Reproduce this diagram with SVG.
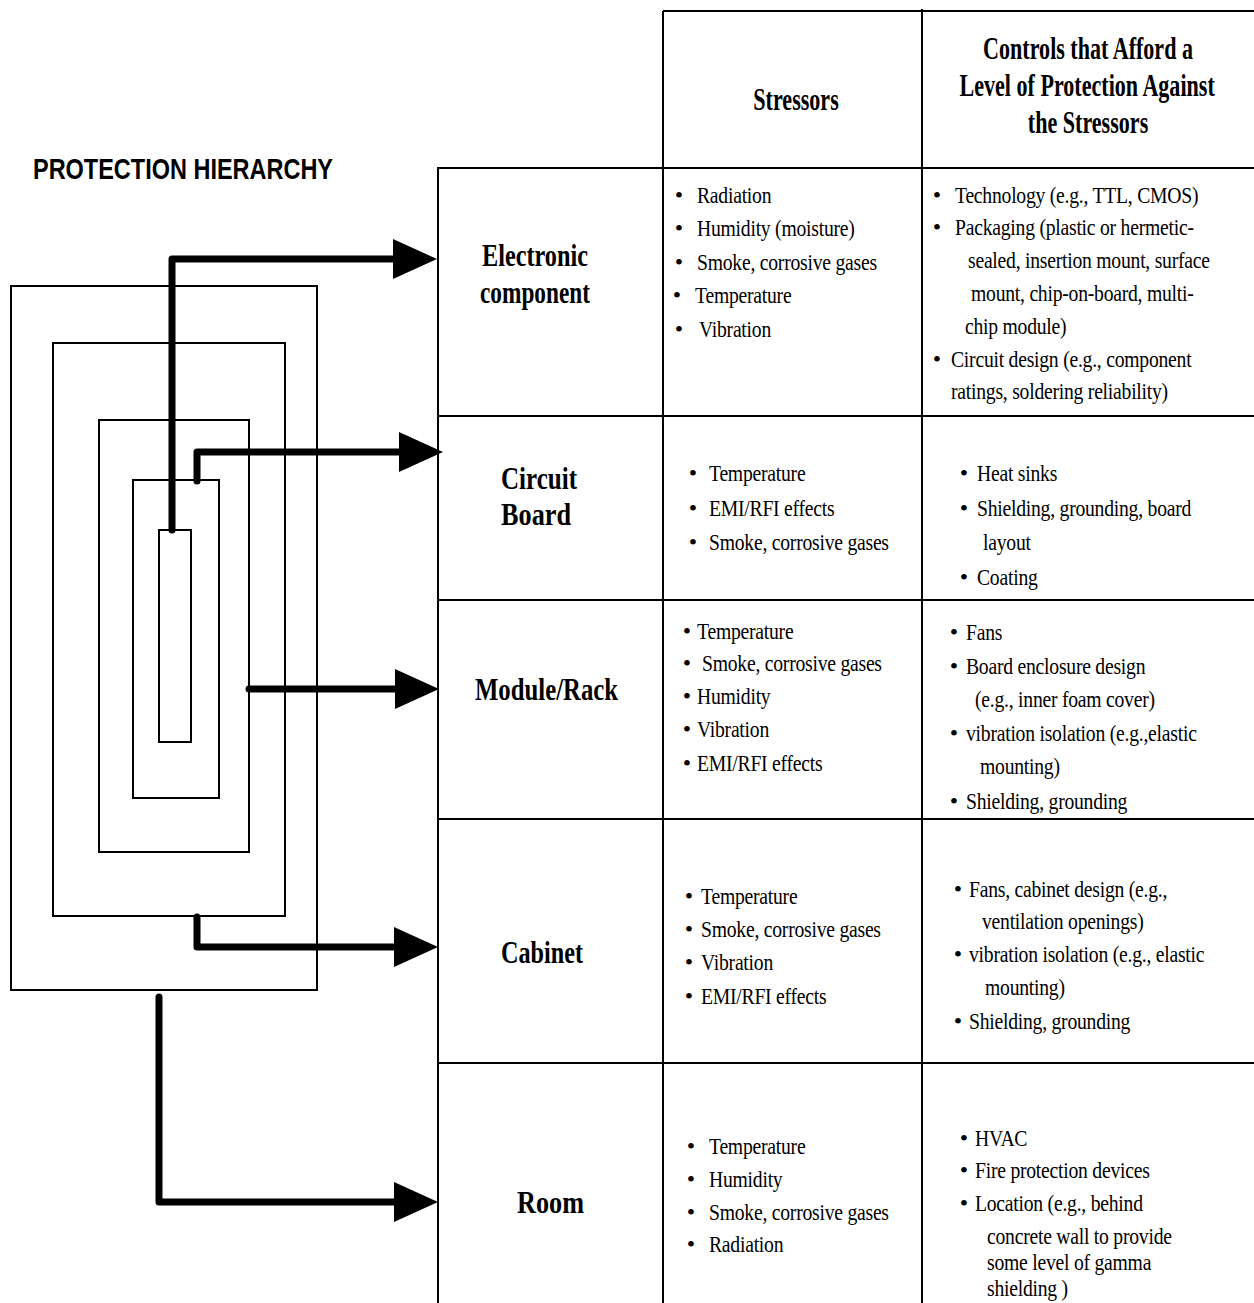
<svg xmlns="http://www.w3.org/2000/svg" width="1254" height="1303" viewBox="0 0 1254 1303">
<style>
.bg{fill:#fff}
.box{fill:none;stroke:#000;stroke-width:2}
.grid{stroke:#000;stroke-width:2;fill:none}
.conn{fill:none;stroke:#000;stroke-width:7;stroke-linecap:round;stroke-linejoin:round}
.title{font-family:"Liberation Sans",Arial,sans-serif;font-weight:bold;font-size:30px;fill:#000}
.hd{font-family:"Liberation Serif","Times New Roman",serif;font-weight:bold;font-size:32px;fill:#000;text-anchor:middle;transform-box:fill-box;transform-origin:center;transform:scaleX(0.69)}
.lbl{font-family:"Liberation Serif","Times New Roman",serif;font-weight:bold;font-size:32px;fill:#000}
.t{font-family:"Liberation Serif","Times New Roman",serif;font-size:24px;fill:#000;letter-spacing:-0.3px;transform-box:fill-box;transform-origin:0 0;transform:scaleX(0.82)}
.d{font-family:"Liberation Serif","Times New Roman",serif;font-size:24px;fill:#000;text-anchor:middle}
</style>
<defs>
<marker id="ah" markerUnits="userSpaceOnUse" markerWidth="44" markerHeight="40" refX="0" refY="20" orient="auto">
<path d="M0,0 L44,20 L0,40 Z" fill="#000"/>
</marker>
</defs>
<rect class="bg" x="0" y="0" width="1254" height="1303"/>
<text class="title" x="33" y="179" textLength="300" lengthAdjust="spacingAndGlyphs">PROTECTION HIERARCHY</text>

<g id="hierarchy">
<rect id="level-room" class="box" x="11" y="286" width="306" height="704"/>
<rect id="level-cabinet" class="box" x="53" y="343" width="232" height="573"/>
<rect id="level-module" class="box" x="99" y="420" width="150" height="432"/>
<rect id="level-board" class="box" x="133" y="480" width="86" height="318"/>
<rect id="level-component" class="box" x="159" y="530" width="32" height="212"/>
</g>

<g id="table-grid">
<line class="grid" x1="663" y1="11" x2="1254" y2="11"/>
<line class="grid" x1="663" y1="11" x2="663" y2="1303"/>
<line class="grid" x1="922" y1="9" x2="922" y2="1303"/>
<line class="grid" x1="438" y1="168" x2="438" y2="1303"/>
<line class="grid" x1="437" y1="168" x2="1254" y2="168"/>
<line class="grid" x1="438" y1="416" x2="1254" y2="416"/>
<line class="grid" x1="438" y1="600" x2="1254" y2="600"/>
<line class="grid" x1="438" y1="819" x2="1254" y2="819"/>
<line class="grid" x1="438" y1="1063" x2="1254" y2="1063"/>
</g>

<g id="header">
<text class="hd" x="796" y="110">Stressors</text>
<text class="hd" x="1088" y="59">Controls that Afford a</text>
<text class="hd" x="1087" y="96">Level of Protection Against</text>
<text class="hd" x="1088" y="133">the Stressors</text>
</g>

<g id="row-component">
<text class="lbl" x="482" y="266" textLength="106" lengthAdjust="spacingAndGlyphs">Electronic</text>
<text class="lbl" x="480" y="303" textLength="110" lengthAdjust="spacingAndGlyphs">component</text>
<text class="d" x="679" y="203">•</text><text class="t" x="697" y="203">Radiation</text>
<text class="d" x="679" y="236">•</text><text class="t" x="697" y="236">Humidity (moisture)</text>
<text class="d" x="679" y="270">•</text><text class="t" x="697" y="270">Smoke, corrosive gases</text>
<text class="d" x="677" y="303">•</text><text class="t" x="695" y="303">Temperature</text>
<text class="d" x="679" y="337">•</text><text class="t" x="699" y="337">Vibration</text>
<text class="d" x="937" y="203">•</text><text class="t" x="955" y="203">Technology (e.g., TTL, CMOS)</text>
<text class="d" x="937" y="235">•</text><text class="t" x="955" y="235">Packaging (plastic or hermetic-</text>
<text class="t" x="968" y="268">sealed, insertion mount, surface</text>
<text class="t" x="971" y="301">mount, chip-on-board, multi-</text>
<text class="t" x="965" y="334">chip module)</text>
<text class="d" x="937" y="367">•</text><text class="t" x="951" y="367">Circuit design (e.g., component</text>
<text class="t" x="951" y="399">ratings, soldering reliability)</text>
</g>

<g id="row-board">
<text class="lbl" x="501" y="489" textLength="76" lengthAdjust="spacingAndGlyphs">Circuit</text>
<text class="lbl" x="501" y="525" textLength="70" lengthAdjust="spacingAndGlyphs">Board</text>
<text class="d" x="693" y="481">•</text><text class="t" x="709" y="481">Temperature</text>
<text class="d" x="693" y="516">•</text><text class="t" x="709" y="516">EMI/RFI effects</text>
<text class="d" x="693" y="550">•</text><text class="t" x="709" y="550">Smoke, corrosive gases</text>
<text class="d" x="964" y="481">•</text><text class="t" x="977" y="481">Heat sinks</text>
<text class="d" x="964" y="516">•</text><text class="t" x="977" y="516">Shielding, grounding, board</text>
<text class="t" x="983" y="550">layout</text>
<text class="d" x="964" y="585">•</text><text class="t" x="977" y="585">Coating</text>
</g>

<g id="row-module">
<text class="lbl" x="475" y="700" textLength="143" lengthAdjust="spacingAndGlyphs">Module/Rack</text>
<text class="d" x="687" y="639">•</text><text class="t" x="697" y="639">Temperature</text>
<text class="d" x="687" y="671">•</text><text class="t" x="702" y="671">Smoke, corrosive gases</text>
<text class="d" x="687" y="704">•</text><text class="t" x="697" y="704">Humidity</text>
<text class="d" x="687" y="737">•</text><text class="t" x="697" y="737">Vibration</text>
<text class="d" x="687" y="771">•</text><text class="t" x="697" y="771">EMI/RFI effects</text>
<text class="d" x="954" y="640">•</text><text class="t" x="966" y="640">Fans</text>
<text class="d" x="954" y="674">•</text><text class="t" x="966" y="674">Board enclosure design</text>
<text class="t" x="975" y="707">(e.g., inner foam cover)</text>
<text class="d" x="954" y="741">•</text><text class="t" x="966" y="741">vibration isolation (e.g.,elastic</text>
<text class="t" x="980" y="774">mounting)</text>
<text class="d" x="954" y="809">•</text><text class="t" x="966" y="809">Shielding, grounding</text>
</g>

<g id="row-cabinet">
<text class="lbl" x="501" y="963" textLength="82" lengthAdjust="spacingAndGlyphs">Cabinet</text>
<text class="d" x="689" y="904">•</text><text class="t" x="701" y="904">Temperature</text>
<text class="d" x="689" y="937">•</text><text class="t" x="701" y="937">Smoke, corrosive gases</text>
<text class="d" x="689" y="970">•</text><text class="t" x="701" y="970">Vibration</text>
<text class="d" x="689" y="1004">•</text><text class="t" x="701" y="1004">EMI/RFI effects</text>
<text class="d" x="958" y="897">•</text><text class="t" x="969" y="897">Fans, cabinet design (e.g.,</text>
<text class="t" x="982" y="929">ventilation openings)</text>
<text class="d" x="958" y="962">•</text><text class="t" x="969" y="962">vibration isolation (e.g., elastic</text>
<text class="t" x="985" y="995">mounting)</text>
<text class="d" x="958" y="1029">•</text><text class="t" x="969" y="1029">Shielding, grounding</text>
</g>

<g id="row-room">
<text class="lbl" x="517" y="1213" textLength="67" lengthAdjust="spacingAndGlyphs">Room</text>
<text class="d" x="691" y="1154">•</text><text class="t" x="709" y="1154">Temperature</text>
<text class="d" x="691" y="1187">•</text><text class="t" x="709" y="1187">Humidity</text>
<text class="d" x="691" y="1220">•</text><text class="t" x="709" y="1220">Smoke, corrosive gases</text>
<text class="d" x="691" y="1252">•</text><text class="t" x="709" y="1252">Radiation</text>
<text class="d" x="964" y="1146">•</text><text class="t" x="975" y="1146">HVAC</text>
<text class="d" x="964" y="1178">•</text><text class="t" x="975" y="1178">Fire protection devices</text>
<text class="d" x="964" y="1211">•</text><text class="t" x="975" y="1211">Location (e.g., behind</text>
<text class="t" x="987" y="1244">concrete wall to provide</text>
<text class="t" x="987" y="1270">some level of gamma</text>
<text class="t" x="987" y="1296">shielding )</text>
</g>

<g id="connectors">
<path class="conn" d="M172,530 V259 H393" marker-end="url(#ah)"/>
<path class="conn" d="M197,481 V452 H399" marker-end="url(#ah)"/>
<path class="conn" d="M249,689 H395" marker-end="url(#ah)"/>
<path class="conn" d="M197,917 V947 H394" marker-end="url(#ah)"/>
<path class="conn" d="M159,997 V1202 H394" marker-end="url(#ah)"/>
</g>
</svg>
